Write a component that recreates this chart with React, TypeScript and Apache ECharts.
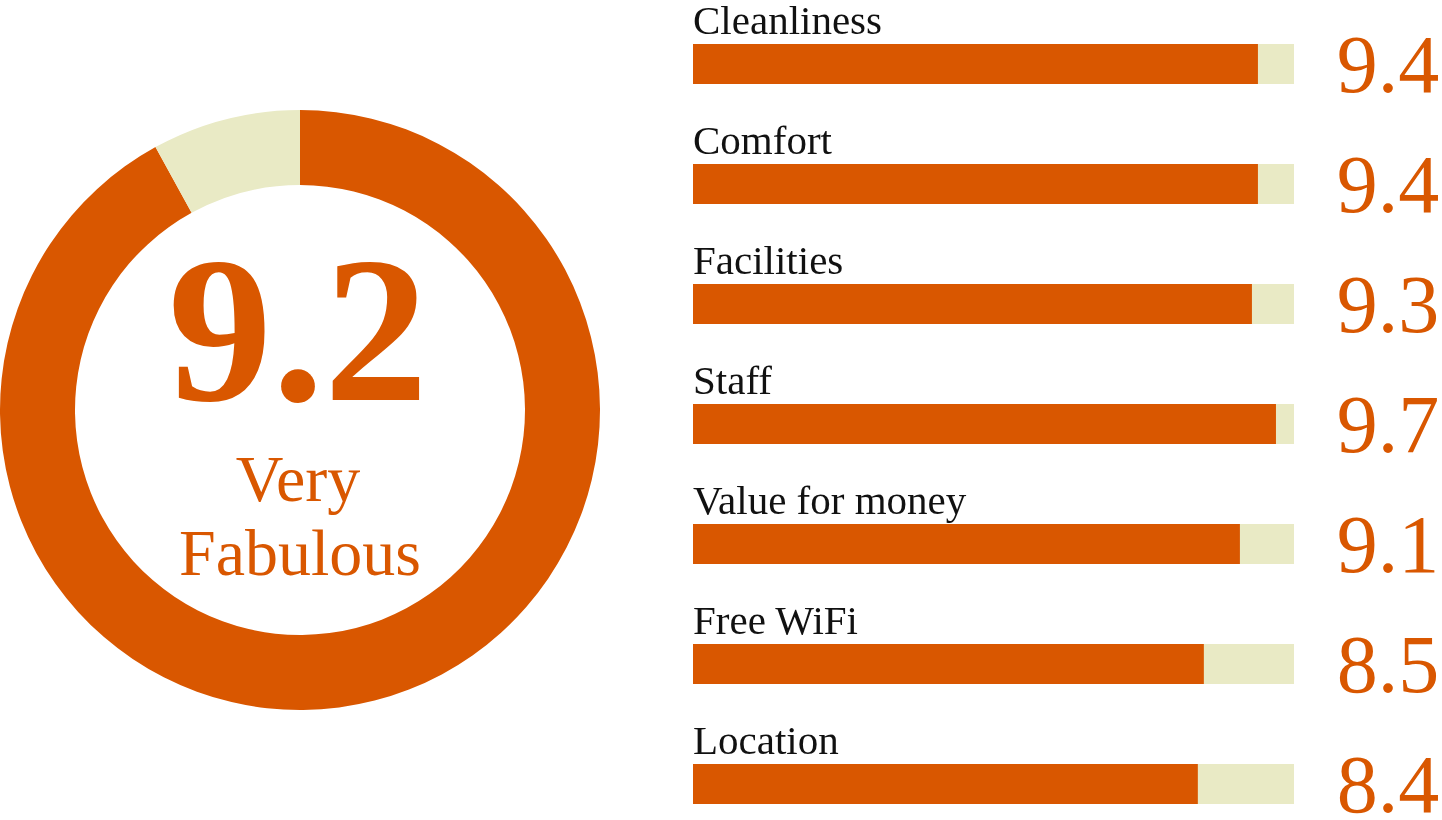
import React, { useEffect, useRef } from "react";
import * as echarts from "echarts";

const categories = ["Cleanliness", "Comfort", "Facilities", "Staff", "Value for money", "Free WiFi", "Location"];
const scores = [9.4, 9.4, 9.3, 9.7, 9.1, 8.5, 8.4];
const overallScore = 9.2;
const maxScore = 10;
const ratingWords = ["Very", "Fabulous"];

const ORANGE = "#D95700";
const BEIGE = "#E9EAC5";
const FONT = "'Liberation Serif', 'DejaVu Serif', serif";

export default function App() {
  const ref = useRef<HTMLDivElement>(null);
  useEffect(() => {
    if (!ref.current) return;
    const chart = echarts.init(ref.current, null, { renderer: "svg" });
    chart.setOption({
      animation: false,
      grid: {
        left: 693,
        top: 4,
        width: 601,
        height: 840,
        containLabel: false,
        outerBoundsMode: "none",
      },
      xAxis: { type: "value", min: 0, max: maxScore, show: false },
      yAxis: [
        {
          type: "category",
          data: categories,
          inverse: true,
          axisLine: { show: false },
          axisTick: { show: false },
          axisLabel: { show: false },
        },
        {
          type: "category",
          position: "right",
          data: scores.map((s) => s.toFixed(1)),
          inverse: true,
          axisLine: { show: false },
          axisTick: { show: false },
          axisLabel: {
            interval: 0,
            margin: 94,
            align: "center",
            verticalAlign: "middle",
            lineHeight: 56,
            fontSize: 82,
            fontFamily: FONT,
            color: ORANGE,
          },
        },
      ],
      series: [
        {
          type: "bar",
          yAxisIndex: 0,
          data: scores,
          barWidth: 40,
          silent: true,
          itemStyle: { color: ORANGE },
          showBackground: true,
          backgroundStyle: { color: BEIGE },
          label: {
            show: true,
            formatter: "{b}",
            position: [0, -24],
            align: "left",
            verticalAlign: "middle",
            lineHeight: 36,
            fontSize: 41,
            fontFamily: FONT,
            color: "#111111",
          },
        },
        {
          type: "pie",
          center: [300, 410],
          radius: [225, 300],
          startAngle: 90,
          clockwise: true,
          silent: true,
          label: { show: false },
          labelLine: { show: false },
          itemStyle: { borderWidth: 0 },
          emphasis: { disabled: true },
          data: [
            { value: overallScore, itemStyle: { color: ORANGE } },
            { value: maxScore - overallScore, itemStyle: { color: BEIGE } },
          ],
        },
      ],
      graphic: [
        {
          type: "text",
          x: 298,
          y: 330,
          style: {
            text: overallScore.toFixed(1),
            fill: ORANGE,
            font: `bold 208px ${FONT}`,
            textAlign: "center",
            textVerticalAlign: "middle",
          },
        },
        {
          type: "text",
          x: 298,
          y: 478,
          style: {
            text: ratingWords[0],
            fill: ORANGE,
            font: `66px ${FONT}`,
            textAlign: "center",
            textVerticalAlign: "middle",
          },
        },
        {
          type: "text",
          x: 300,
          y: 552,
          style: {
            text: ratingWords[1],
            fill: ORANGE,
            font: `66px ${FONT}`,
            textAlign: "center",
            textVerticalAlign: "middle",
          },
        },
      ],
    });
    return () => chart.dispose();
  }, []);
  return (
    <div
      ref={ref}
      style={{ position: "fixed", left: 0, top: 0, width: 1442, height: 820 }}
    />
  );
}
